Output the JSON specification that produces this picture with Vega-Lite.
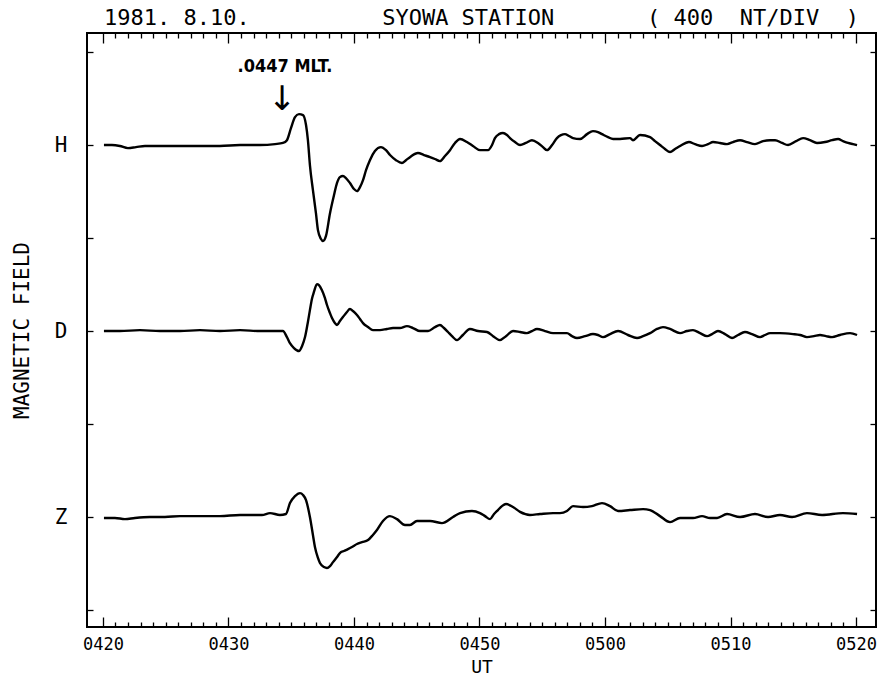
{
 "$schema": "https://vega.github.io/schema/vega-lite/v6.json",
 "width": 789, "height": 594,
 "autosize": {"type": "none"},
 "padding": {"left": 87, "top": 33, "right": 1, "bottom": 53},
 "background": "white",
 "config": {
  "view": {"stroke": "black", "strokeWidth": 2},
  "font": "DejaVu Sans Mono",
  "axis": {"labelFont": "DejaVu Sans Mono", "titleFont": "DejaVu Sans Mono", "labelColor": "black", "titleColor": "black", "tickColor": "black", "tickWidth": 1.3, "grid": false, "domain": false, "titleFontWeight": "normal"}
 },
 "title": {"text": "1981. 8.10.\u00a0\u00a0\u00a0\u00a0\u00a0\u00a0\u00a0\u00a0\u00a0\u00a0SYOWA STATION\u00a0\u00a0\u00a0\u00a0\u00a0\u00a0\u00a0(\u00a0400\u00a0\u00a0NT/DIV\u00a0\u00a0)", "anchor": "start", "frame": "group", "dx": 17, "offset": 2, "fontSize": 22, "font": "DejaVu Sans Mono", "fontWeight": "normal", "color": "black"},
 "resolve": {"axis": {"x": "independent", "y": "independent"}},
 "layer": [
  {
   "data": {"values": [
    {"comp":"H","min":20.08,"nT":2000},{"comp":"H","min":20.72,"nT":2000},{"comp":"H","min":21.35,"nT":1996},{"comp":"H","min":21.99,"nT":1987},{"comp":"H","min":22.63,"nT":1991},{"comp":"H","min":23.35,"nT":1996},{"comp":"H","min":24.54,"nT":1996},{"comp":"H","min":26.14,"nT":1996},{"comp":"H","min":27.73,"nT":1996},{"comp":"H","min":29.32,"nT":1996},{"comp":"H","min":30.92,"nT":2000},{"comp":"H","min":32.51,"nT":2000},{"comp":"H","min":33.71,"nT":2004},{"comp":"H","min":34.34,"nT":2009},{"comp":"H","min":34.66,"nT":2021},{"comp":"H","min":34.98,"nT":2073},{"comp":"H","min":35.30,"nT":2120},{"comp":"H","min":35.62,"nT":2133},{"comp":"H","min":35.94,"nT":2129},{"comp":"H","min":36.18,"nT":2086},{"comp":"H","min":36.33,"nT":2021},{"comp":"H","min":36.49,"nT":1914},{"comp":"H","min":36.73,"nT":1806},{"comp":"H","min":36.97,"nT":1707},{"comp":"H","min":37.13,"nT":1634},{"comp":"H","min":37.37,"nT":1596},{"comp":"H","min":37.53,"nT":1587},{"comp":"H","min":37.77,"nT":1609},{"comp":"H","min":38.09,"nT":1707},{"comp":"H","min":38.41,"nT":1785},{"comp":"H","min":38.65,"nT":1837},{"comp":"H","min":38.88,"nT":1862},{"comp":"H","min":39.12,"nT":1867},{"comp":"H","min":39.36,"nT":1858},{"comp":"H","min":39.68,"nT":1837},{"comp":"H","min":40.00,"nT":1811},{"comp":"H","min":40.24,"nT":1802},{"comp":"H","min":40.48,"nT":1819},{"comp":"H","min":40.72,"nT":1849},{"comp":"H","min":40.96,"nT":1892},{"comp":"H","min":41.27,"nT":1935},{"comp":"H","min":41.67,"nT":1974},{"comp":"H","min":42.15,"nT":1991},{"comp":"H","min":42.55,"nT":1978},{"comp":"H","min":42.87,"nT":1957},{"comp":"H","min":43.35,"nT":1935},{"comp":"H","min":43.82,"nT":1923},{"comp":"H","min":44.14,"nT":1935},{"comp":"H","min":44.46,"nT":1948},{"comp":"H","min":45.10,"nT":1966},{"comp":"H","min":45.58,"nT":1957},{"comp":"H","min":46.06,"nT":1948},{"comp":"H","min":46.45,"nT":1940},{"comp":"H","min":46.85,"nT":1931},{"comp":"H","min":47.25,"nT":1953},{"comp":"H","min":47.65,"nT":1978},{"comp":"H","min":48.05,"nT":2009},{"comp":"H","min":48.45,"nT":2026},{"comp":"H","min":49.00,"nT":2013},{"comp":"H","min":49.48,"nT":1996},{"comp":"H","min":50.04,"nT":1978},{"comp":"H","min":50.68,"nT":1978},{"comp":"H","min":51.00,"nT":2000},{"comp":"H","min":51.23,"nT":2030},{"comp":"H","min":51.55,"nT":2047},{"comp":"H","min":51.87,"nT":2052},{"comp":"H","min":52.19,"nT":2043},{"comp":"H","min":52.43,"nT":2030},{"comp":"H","min":52.83,"nT":2013},{"comp":"H","min":53.23,"nT":2000},{"comp":"H","min":53.70,"nT":2009},{"comp":"H","min":54.18,"nT":2021},{"comp":"H","min":54.66,"nT":2009},{"comp":"H","min":55.06,"nT":1991},{"comp":"H","min":55.38,"nT":1978},{"comp":"H","min":55.78,"nT":2000},{"comp":"H","min":56.17,"nT":2030},{"comp":"H","min":56.49,"nT":2043},{"comp":"H","min":56.81,"nT":2047},{"comp":"H","min":57.13,"nT":2039},{"comp":"H","min":57.45,"nT":2030},{"comp":"H","min":58.01,"nT":2026},{"comp":"H","min":58.57,"nT":2047},{"comp":"H","min":59.04,"nT":2060},{"comp":"H","min":59.44,"nT":2056},{"comp":"H","min":59.76,"nT":2047},{"comp":"H","min":60.24,"nT":2034},{"comp":"H","min":60.64,"nT":2026},{"comp":"H","min":61.20,"nT":2026},{"comp":"H","min":61.99,"nT":2030},{"comp":"H","min":62.23,"nT":2021},{"comp":"H","min":62.79,"nT":2043},{"comp":"H","min":63.59,"nT":2034},{"comp":"H","min":63.98,"nT":2017},{"comp":"H","min":64.38,"nT":2000},{"comp":"H","min":64.78,"nT":1983},{"comp":"H","min":65.18,"nT":1970},{"comp":"H","min":65.58,"nT":1983},{"comp":"H","min":65.98,"nT":1996},{"comp":"H","min":66.69,"nT":2013},{"comp":"H","min":67.17,"nT":2004},{"comp":"H","min":67.73,"nT":1996},{"comp":"H","min":68.21,"nT":2004},{"comp":"H","min":68.61,"nT":2013},{"comp":"H","min":69.16,"nT":2009},{"comp":"H","min":69.72,"nT":2004},{"comp":"H","min":70.20,"nT":2013},{"comp":"H","min":70.76,"nT":2021},{"comp":"H","min":71.31,"nT":2013},{"comp":"H","min":71.95,"nT":2004},{"comp":"H","min":72.59,"nT":2017},{"comp":"H","min":73.15,"nT":2021},{"comp":"H","min":73.55,"nT":2021},{"comp":"H","min":74.10,"nT":2009},{"comp":"H","min":74.58,"nT":2000},{"comp":"H","min":75.22,"nT":2017},{"comp":"H","min":75.78,"nT":2030},{"comp":"H","min":76.33,"nT":2021},{"comp":"H","min":76.89,"nT":2009},{"comp":"H","min":77.53,"nT":2013},{"comp":"H","min":78.09,"nT":2021},{"comp":"H","min":78.57,"nT":2026},{"comp":"H","min":78.96,"nT":2017},{"comp":"H","min":79.36,"nT":2009},{"comp":"H","min":79.76,"nT":2004},{"comp":"H","min":80.08,"nT":2000},
    {"comp":"D","min":20.08,"nT":1200},{"comp":"D","min":21.35,"nT":1200},{"comp":"D","min":22.95,"nT":1204},{"comp":"D","min":24.54,"nT":1200},{"comp":"D","min":26.14,"nT":1200},{"comp":"D","min":27.73,"nT":1204},{"comp":"D","min":29.32,"nT":1200},{"comp":"D","min":30.92,"nT":1204},{"comp":"D","min":32.51,"nT":1200},{"comp":"D","min":34.34,"nT":1200},{"comp":"D","min":34.66,"nT":1174},{"comp":"D","min":34.90,"nT":1148},{"comp":"D","min":35.22,"nT":1127},{"comp":"D","min":35.62,"nT":1114},{"comp":"D","min":35.86,"nT":1135},{"comp":"D","min":36.10,"nT":1174},{"comp":"D","min":36.33,"nT":1239},{"comp":"D","min":36.49,"nT":1290},{"comp":"D","min":36.65,"nT":1338},{"comp":"D","min":36.81,"nT":1368},{"comp":"D","min":37.05,"nT":1402},{"comp":"D","min":37.21,"nT":1398},{"comp":"D","min":37.45,"nT":1376},{"comp":"D","min":37.69,"nT":1342},{"comp":"D","min":37.85,"nT":1312},{"comp":"D","min":38.09,"nT":1277},{"comp":"D","min":38.25,"nT":1256},{"comp":"D","min":38.49,"nT":1234},{"comp":"D","min":38.65,"nT":1226},{"comp":"D","min":38.88,"nT":1243},{"comp":"D","min":39.12,"nT":1260},{"comp":"D","min":39.44,"nT":1282},{"comp":"D","min":39.68,"nT":1295},{"comp":"D","min":39.92,"nT":1286},{"comp":"D","min":40.24,"nT":1269},{"comp":"D","min":40.48,"nT":1252},{"comp":"D","min":40.72,"nT":1234},{"comp":"D","min":41.12,"nT":1217},{"comp":"D","min":41.51,"nT":1204},{"comp":"D","min":42.07,"nT":1204},{"comp":"D","min":42.63,"nT":1209},{"comp":"D","min":43.11,"nT":1213},{"comp":"D","min":43.66,"nT":1213},{"comp":"D","min":44.22,"nT":1221},{"comp":"D","min":44.70,"nT":1213},{"comp":"D","min":45.26,"nT":1200},{"comp":"D","min":45.90,"nT":1200},{"comp":"D","min":46.45,"nT":1217},{"comp":"D","min":46.85,"nT":1226},{"comp":"D","min":47.17,"nT":1213},{"comp":"D","min":47.49,"nT":1196},{"comp":"D","min":47.81,"nT":1178},{"comp":"D","min":48.21,"nT":1161},{"comp":"D","min":48.68,"nT":1183},{"comp":"D","min":49.24,"nT":1209},{"comp":"D","min":49.88,"nT":1200},{"comp":"D","min":50.60,"nT":1196},{"comp":"D","min":51.08,"nT":1178},{"comp":"D","min":51.63,"nT":1161},{"comp":"D","min":52.11,"nT":1178},{"comp":"D","min":52.67,"nT":1200},{"comp":"D","min":53.23,"nT":1196},{"comp":"D","min":53.78,"nT":1191},{"comp":"D","min":54.18,"nT":1200},{"comp":"D","min":54.58,"nT":1209},{"comp":"D","min":55.22,"nT":1200},{"comp":"D","min":55.86,"nT":1191},{"comp":"D","min":56.41,"nT":1191},{"comp":"D","min":56.97,"nT":1191},{"comp":"D","min":57.37,"nT":1178},{"comp":"D","min":57.77,"nT":1170},{"comp":"D","min":58.41,"nT":1178},{"comp":"D","min":59.04,"nT":1187},{"comp":"D","min":59.44,"nT":1183},{"comp":"D","min":59.84,"nT":1174},{"comp":"D","min":60.40,"nT":1187},{"comp":"D","min":61.04,"nT":1200},{"comp":"D","min":61.83,"nT":1183},{"comp":"D","min":62.55,"nT":1170},{"comp":"D","min":63.03,"nT":1178},{"comp":"D","min":63.59,"nT":1191},{"comp":"D","min":64.14,"nT":1209},{"comp":"D","min":64.62,"nT":1217},{"comp":"D","min":65.18,"nT":1209},{"comp":"D","min":65.98,"nT":1191},{"comp":"D","min":66.53,"nT":1200},{"comp":"D","min":67.01,"nT":1204},{"comp":"D","min":67.57,"nT":1191},{"comp":"D","min":68.13,"nT":1178},{"comp":"D","min":68.53,"nT":1187},{"comp":"D","min":69.00,"nT":1200},{"comp":"D","min":69.56,"nT":1187},{"comp":"D","min":70.12,"nT":1170},{"comp":"D","min":70.60,"nT":1183},{"comp":"D","min":71.15,"nT":1196},{"comp":"D","min":71.71,"nT":1187},{"comp":"D","min":72.35,"nT":1174},{"comp":"D","min":72.75,"nT":1183},{"comp":"D","min":73.15,"nT":1191},{"comp":"D","min":73.94,"nT":1191},{"comp":"D","min":74.98,"nT":1187},{"comp":"D","min":75.54,"nT":1183},{"comp":"D","min":76.09,"nT":1174},{"comp":"D","min":76.65,"nT":1178},{"comp":"D","min":77.13,"nT":1183},{"comp":"D","min":77.61,"nT":1178},{"comp":"D","min":78.09,"nT":1174},{"comp":"D","min":78.72,"nT":1183},{"comp":"D","min":79.52,"nT":1191},{"comp":"D","min":80.08,"nT":1183},
    {"comp":"Z","min":20.08,"nT":396},{"comp":"Z","min":20.96,"nT":396},{"comp":"Z","min":21.75,"nT":391},{"comp":"Z","min":22.55,"nT":396},{"comp":"Z","min":23.74,"nT":400},{"comp":"Z","min":24.94,"nT":400},{"comp":"Z","min":26.14,"nT":404},{"comp":"Z","min":27.73,"nT":404},{"comp":"Z","min":29.32,"nT":404},{"comp":"Z","min":30.92,"nT":409},{"comp":"Z","min":32.11,"nT":409},{"comp":"Z","min":32.67,"nT":409},{"comp":"Z","min":33.31,"nT":417},{"comp":"Z","min":34.10,"nT":409},{"comp":"Z","min":34.58,"nT":413},{"comp":"Z","min":34.90,"nT":460},{"comp":"Z","min":35.30,"nT":490},{"comp":"Z","min":35.70,"nT":503},{"comp":"Z","min":35.94,"nT":495},{"comp":"Z","min":36.18,"nT":473},{"comp":"Z","min":36.49,"nT":400},{"comp":"Z","min":36.73,"nT":323},{"comp":"Z","min":36.89,"nT":271},{"comp":"Z","min":37.13,"nT":224},{"comp":"Z","min":37.29,"nT":202},{"comp":"Z","min":37.61,"nT":185},{"comp":"Z","min":37.85,"nT":181},{"comp":"Z","min":38.09,"nT":189},{"comp":"Z","min":38.33,"nT":206},{"comp":"Z","min":38.65,"nT":228},{"comp":"Z","min":38.88,"nT":245},{"comp":"Z","min":39.20,"nT":254},{"comp":"Z","min":39.52,"nT":262},{"comp":"Z","min":39.84,"nT":271},{"comp":"Z","min":40.24,"nT":284},{"comp":"Z","min":40.64,"nT":292},{"comp":"Z","min":41.12,"nT":301},{"comp":"Z","min":41.51,"nT":323},{"comp":"Z","min":41.83,"nT":344},{"comp":"Z","min":42.31,"nT":383},{"comp":"Z","min":42.87,"nT":404},{"comp":"Z","min":43.43,"nT":391},{"comp":"Z","min":44.06,"nT":366},{"comp":"Z","min":44.46,"nT":366},{"comp":"Z","min":45.02,"nT":383},{"comp":"Z","min":46.06,"nT":383},{"comp":"Z","min":47.01,"nT":374},{"comp":"Z","min":47.89,"nT":400},{"comp":"Z","min":48.45,"nT":417},{"comp":"Z","min":49.40,"nT":426},{"comp":"Z","min":50.04,"nT":417},{"comp":"Z","min":50.44,"nT":404},{"comp":"Z","min":50.84,"nT":391},{"comp":"Z","min":51.16,"nT":413},{"comp":"Z","min":51.47,"nT":430},{"comp":"Z","min":51.79,"nT":447},{"comp":"Z","min":52.11,"nT":456},{"comp":"Z","min":52.67,"nT":443},{"comp":"Z","min":53.23,"nT":422},{"comp":"Z","min":54.02,"nT":409},{"comp":"Z","min":54.82,"nT":413},{"comp":"Z","min":55.86,"nT":417},{"comp":"Z","min":56.41,"nT":417},{"comp":"Z","min":56.97,"nT":426},{"comp":"Z","min":57.45,"nT":447},{"comp":"Z","min":58.25,"nT":443},{"comp":"Z","min":58.96,"nT":447},{"comp":"Z","min":59.76,"nT":460},{"comp":"Z","min":60.40,"nT":447},{"comp":"Z","min":61.04,"nT":426},{"comp":"Z","min":61.99,"nT":430},{"comp":"Z","min":63.03,"nT":434},{"comp":"Z","min":63.59,"nT":430},{"comp":"Z","min":64.38,"nT":404},{"comp":"Z","min":65.18,"nT":378},{"comp":"Z","min":65.98,"nT":396},{"comp":"Z","min":67.01,"nT":396},{"comp":"Z","min":67.73,"nT":404},{"comp":"Z","min":68.37,"nT":396},{"comp":"Z","min":68.93,"nT":396},{"comp":"Z","min":69.72,"nT":413},{"comp":"Z","min":70.76,"nT":400},{"comp":"Z","min":71.95,"nT":413},{"comp":"Z","min":72.99,"nT":400},{"comp":"Z","min":73.94,"nT":409},{"comp":"Z","min":74.90,"nT":400},{"comp":"Z","min":76.09,"nT":417},{"comp":"Z","min":77.29,"nT":409},{"comp":"Z","min":78.96,"nT":417},{"comp":"Z","min":80.08,"nT":413}
   ]},
   "mark": {"type": "line", "color": "black", "strokeWidth": 2.4, "interpolate": "monotone"},
   "encoding": {
    "x": {"field": "min", "type": "quantitative", "scale": {"domain": [18.73, 81.59], "nice": false, "zero": false},
     "axis": {"orient": "bottom", "values": [20,21,22,23,24,25,26,27,28,29,30,31,32,33,34,35,36,37,38,39,40,41,42,43,44,45,46,47,48,49,50,51,52,53,54,55,56,57,58,59,60,61,62,63,64,65,66,67,68,69,70,71,72,73,74,75,76,77,78,79,80],
      "labelExpr": "datum.value % 10 == 0 ? (datum.value < 60 ? '04' + datum.value : '05' + (datum.value - 60 < 10 ? '0' : '') + (datum.value - 60)) : ''",
      "labelOverlap": false, "labelFontSize": 17, "labelPadding": 19,
      "tickSize": {"condition": {"test": "datum.value % 10 == 0", "value": -10}, "value": -5},
      "title": "UT", "titleFontSize": 18, "titlePadding": 1}},
    "y": {"field": "nT", "type": "quantitative", "scale": {"domain": [-73, 2482], "nice": false, "zero": false},
     "axis": {"orient": "left", "values": [0,400,800,1200,1600,2000,2400],
      "labelExpr": "datum.value == 2000 ? 'H' : datum.value == 1200 ? 'D' : datum.value == 400 ? 'Z' : ''",
      "tickSize": -6, "labelFontSize": 21, "labelPadding": 26,
      "title": "MAGNETIC FIELD", "titleFontSize": 21, "titlePadding": 22}},
    "detail": {"field": "comp"}
   }
  },
  {
   "data": {"values": [{"label": ".0447 MLT.", "min": 34.5, "nT": 2335}]},
   "mark": {"type": "text", "font": "DejaVu Sans Condensed", "fontWeight": "bold", "fontSize": 18, "align": "center", "baseline": "middle", "color": "black"},
   "encoding": {
    "x": {"field": "min", "type": "quantitative", "scale": {"domain": [18.73, 81.59], "nice": false, "zero": false},
     "axis": {"orient": "top", "values": [20,21,22,23,24,25,26,27,28,29,30,31,32,33,34,35,36,37,38,39,40,41,42,43,44,45,46,47,48,49,50,51,52,53,54,55,56,57,58,59,60,61,62,63,64,65,66,67,68,69,70,71,72,73,74,75,76,77,78,79,80],
      "labels": false, "title": null,
      "tickSize": {"condition": {"test": "datum.value % 10 == 0", "value": -10}, "value": -5}}},
    "y": {"field": "nT", "type": "quantitative", "scale": {"domain": [-73, 2482], "nice": false, "zero": false},
     "axis": {"orient": "right", "values": [0,400,800,1200,1600,2000,2400], "labels": false, "title": null, "tickSize": -6}},
    "text": {"field": "label"}
   }
  },
  {
   "data": {"values": [{"label": "↓", "min": 34.26, "nT": 2193}]},
   "mark": {"type": "text", "font": "DejaVu Sans", "fontSize": 34, "align": "center", "baseline": "middle", "color": "black"},
   "encoding": {
    "x": {"field": "min", "type": "quantitative", "scale": {"domain": [18.73, 81.59], "nice": false, "zero": false}, "axis": null},
    "y": {"field": "nT", "type": "quantitative", "scale": {"domain": [-73, 2482], "nice": false, "zero": false}, "axis": null},
    "text": {"field": "label"}
   }
  }
 ]
}
